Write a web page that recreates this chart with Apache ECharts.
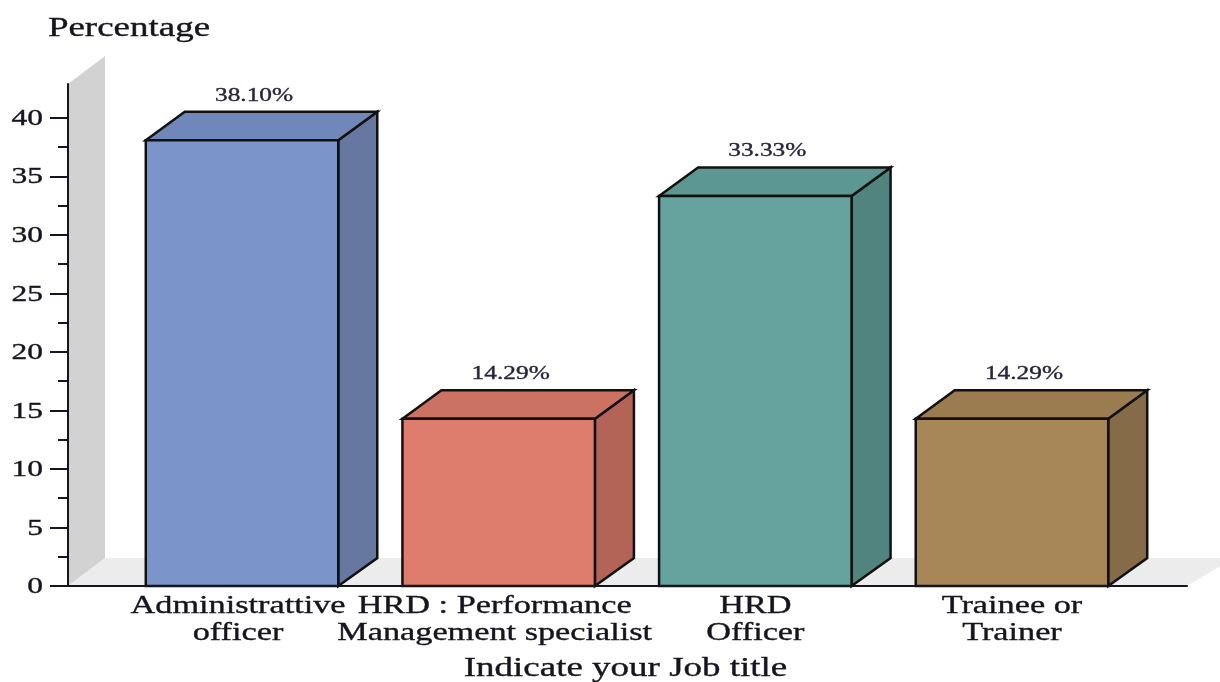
<!DOCTYPE html>
<html>
<head>
<meta charset="utf-8">
<style>html,body{margin:0;padding:0;background:#fff}#chart{width:1220px;height:682px}</style>
<script src="https://cdn.jsdelivr.net/npm/echarts@6/dist/echarts.min.js"></script>
</head>
<body>
<div id="chart"></div>
<script>
const categories = ['Administrattive\nofficer', 'HRD : Performance\nManagement specialist', 'HRD\nOfficer', 'Trainee or\nTrainer'];
const percentages = [38.10, 14.29, 33.33, 14.29];
const valueLabels = ['38.10%', '14.29%', '33.33%', '14.29%'];
const majorTicks = [0, 5, 10, 15, 20, 25, 30, 35, 40];
const minorTicks = [2.5, 7.5, 12.5, 17.5, 22.5, 27.5, 32.5, 37.5];
const faceColors = ['#7b94ca', '#de7d6e', '#66a39e', '#a78658'];
const topColors = ['#6f88b9', '#cb7263', '#5d9792', '#9b7b50'];
const sideColors = ['#66789f', '#b36456', '#51837f', '#866b49'];
const yAxisTitle = 'Percentage';
const xAxisTitle = 'Indicate your Job title';

const axisTop = 42.9;
const depthX = 39;
const depthY = 28.5;
const wallDepthX = 37;
const serif = '"Liberation Serif"';
const ink = '#15151f';
// Glyphs are drawn wide: the serif face is stretched horizontally by this factor.
const stretch = 1.37;

function poly(points, fill, stroke) {
  return {
    type: 'polygon',
    shape: { points },
    style: stroke ? { fill, stroke, lineWidth: 2.5, lineJoin: 'miter' } : { fill }
  };
}

function wideText(text, x, y, size, align, fill, lineHeight, baseline) {
  return {
    type: 'text',
    x,
    y,
    scaleX: stretch,
    style: {
      x: 0,
      y: 0,
      text,
      fill: fill || ink,
      stroke: fill || ink,
      lineWidth: 0.35,
      font: size + 'px ' + serif,
      align: align || 'center',
      verticalAlign: baseline || 'middle',
      lineHeight: lineHeight || size
    }
  };
}

// Grey back wall and floor of the 3D plot box, plus value-axis numbers and the axis titles.
function renderBackdrop(params, api) {
  const o = api.coord([0, 0]);
  const t = api.coord([0, axisTop]);
  const r = api.coord([1, 0]);
  const numbers = majorTicks.map(v => wideText(String(v), o[0] - 25, api.coord([0, v])[1] + 1, 23, 'right'));
  return {
    type: 'group',
    children: [
      poly([[o[0], o[1]], [r[0], o[1]], [r[0] + wallDepthX + 10, o[1] - 28], [o[0] + wallDepthX, o[1] - 28]], '#ececec'),
      poly([[o[0], o[1]], [o[0] + wallDepthX, o[1] - 28], [o[0] + wallDepthX, t[1] - 28], [o[0], t[1]]], '#d2d2d2'),
      wideText(yAxisTitle, o[0] + 61, t[1] - 55, 27),
      wideText(xAxisTitle, (o[0] + r[0]) / 2 - 2, o[1] + 83, 27),
      ...numbers
    ]
  };
}

// Extruded bar: front face, top and right side, with the value above it and the job title below.
function renderBar(params, api) {
  const i = api.value(0);
  const v = api.value(1);
  const c = api.coord([i, v]);
  const b = api.coord([i, 0]);
  const w = api.size([1, 0])[0] * 0.75;
  const x0 = c[0] - w / 2;
  const x1 = c[0] + w / 2;
  return {
    type: 'group',
    children: [
      poly([[x1, b[1]], [x1 + depthX, b[1] - 28], [x1 + depthX, c[1] - depthY], [x1, c[1]]], sideColors[i], '#111'),
      poly([[x0, c[1]], [x0 + depthX, c[1] - depthY], [x1 + depthX, c[1] - depthY], [x1, c[1]]], topColors[i], '#111'),
      poly([[x0, b[1]], [x0, c[1]], [x1, c[1]], [x1, b[1]]], faceColors[i], '#111'),
      wideText(valueLabels[i], c[0] + 12, c[1] - depthY - 16, 18.5, 'center', '#26263a'),
      wideText(categories[i], c[0] - (i < 2 ? 4 : 0), b[1] + 7, 25, 'center', ink, 27, 'top')
    ]
  };
}

const chart = echarts.init(document.getElementById('chart'), null, { renderer: 'canvas' });
chart.setOption({
  animation: false,
  grid: [
    { left: 68, top: 84, width: 1119, height: 502 },
    { left: 113.7, top: 84, width: 1026.6, height: 502 }
  ],
  xAxis: [
    {
      type: 'value', gridIndex: 0, min: 0, max: 1, z: 5,
      axisLine: { show: true, lineStyle: { color: ink, width: 2 } },
      axisTick: { show: false }, axisLabel: { show: false }, splitLine: { show: false }
    },
    {
      type: 'category', gridIndex: 1, data: categories,
      axisLine: { show: false }, axisTick: { show: false }, axisLabel: { show: false }
    }
  ],
  yAxis: [
    {
      type: 'value', gridIndex: 0, min: 0, max: axisTop, interval: 5, z: 5,
      axisLine: { show: true, onZero: false, lineStyle: { color: ink, width: 2 } },
      axisTick: { show: true, length: 18, customValues: majorTicks, lineStyle: { color: ink, width: 2 } },
      axisLabel: { show: false },
      splitLine: { show: false }
    },
    {
      type: 'value', gridIndex: 0, position: 'left', min: 0, max: axisTop, interval: 5, z: 5,
      axisLine: { show: false },
      axisTick: { show: true, length: 10, customValues: minorTicks, lineStyle: { color: ink, width: 2 } },
      axisLabel: { show: false }, splitLine: { show: false }
    },
    {
      type: 'value', gridIndex: 1, min: 0, max: axisTop, show: false, splitLine: { show: false }
    }
  ],
  series: [
    {
      type: 'custom', xAxisIndex: 0, yAxisIndex: 0, z: 1, silent: true,
      renderItem: renderBackdrop, data: [[0, 0]]
    },
    {
      type: 'custom', xAxisIndex: 1, yAxisIndex: 2, z: 2, silent: true,
      renderItem: renderBar,
      encode: { x: 0, y: 1 },
      data: percentages.map((v, i) => [i, v])
    }
  ]
});
</script>
</body>
</html>
